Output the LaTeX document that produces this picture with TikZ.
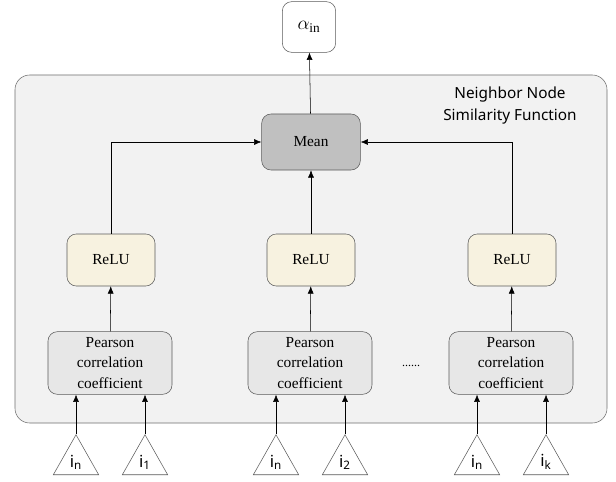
\documentclass[tikz,border=0pt]{standalone}
\usepackage{fontspec}
\setmainfont{Liberation Serif}
\newfontfamily\labelfont{Noto Sans}
\usepackage{xcolor}
\definecolor{framefill}{HTML}{F2F2F2}
\definecolor{frameline}{HTML}{6E6E6E}
\definecolor{boxline}{HTML}{5A5A5A}
\definecolor{relufill}{HTML}{F7F2E0}
\definecolor{pearsonfill}{HTML}{E7E7E7}
\definecolor{meanfill}{HTML}{C0C0C0}
\usetikzlibrary{shapes.geometric,arrows.meta}

\begin{document}
\begin{tikzpicture}[x=0.75pt,y=-0.75pt,->,>={Latex[length=5.5pt,width=4.5pt]},
	box/.style={draw=boxline,rounded corners=7pt,align=center,inner sep=1pt,font=\fontsize{11.5}{15.5}\selectfont},
	relubox/.style={box,fill=relufill,minimum width=66pt,minimum height=39pt},
	pearsonbox/.style={box,fill=pearsonfill,minimum width=93pt,minimum height=47pt},
	inputnode/.style={draw=boxline,fill=white,isosceles triangle,shape border rotate=90,isosceles triangle stretches,minimum width=34pt,minimum height=30pt,inner sep=0pt,anchor=south,font=\labelfont\fontsize{12.5}{14}\selectfont}]
	\useasboundingbox (0,0) rectangle (616,481);

	% outer frame
	\draw[-,draw=frameline,fill=framefill,rounded corners=11pt] (15,75) rectangle (607,423);
	\node (frametitle) [align=center,font=\labelfont\fontsize{11.5}{16.5}\selectfont] at (510,106) {Neighbor Node\\Similarity Function};

	\node (alpha) [box,fill=white,minimum width=40pt,minimum height=38pt,font=\Large] at (309,27) {$\alpha_{\mathrm{in}}$};
	\node (mean) [box,fill=meanfill,minimum width=74pt,minimum height=42pt] at (311,142) {Mean};

	\node (relu1) [relubox] at (111,260) {ReLU};
	\node (relu2) [relubox] at (311,260) {ReLU};
	\node (relu3) [relubox] at (512,260) {ReLU};

	\node (pearson1) [pearsonbox] at (110,363) {Pearson\\correlation\\coefficient};
	\node (pearson2) [pearsonbox] at (310,363) {Pearson\\correlation\\coefficient};
	\node (pearson3) [pearsonbox] at (511,363) {Pearson\\correlation\\coefficient};
	\node (dots) [font=\small] at (411,366) {......};

	\node (in1) [inputnode] at (76,475) {i\textsubscript{n}};
	\node (ione) [inputnode] at (145,475) {i\textsubscript{1}};
	\node (in2) [inputnode] at (276,475) {i\textsubscript{n}};
	\node (itwo) [inputnode] at (345,475) {i\textsubscript{2}};
	\node (in3) [inputnode] at (477,475) {i\textsubscript{n}};
	\node (ik) [inputnode] at (546,475) {i\textsubscript{k}};

	\draw (in1.apex) -- (in1.apex |- pearson1.south);
	\draw (ione.apex) -- (ione.apex |- pearson1.south);
	\draw (in2.apex) -- (in2.apex |- pearson2.south);
	\draw (itwo.apex) -- (itwo.apex |- pearson2.south);
	\draw (in3.apex) -- (in3.apex |- pearson3.south);
	\draw (ik.apex) -- (ik.apex |- pearson3.south);

	\draw (pearson1) -- (relu1);
	\draw (pearson2) -- (relu2);
	\draw (pearson3) -- (relu3);

	\draw (relu1.north) |- (mean.west);
	\draw (relu2) -- (mean);
	\draw (relu3.north) |- (mean.east);
	\draw (mean) -- (alpha);
\end{tikzpicture}
\end{document}
